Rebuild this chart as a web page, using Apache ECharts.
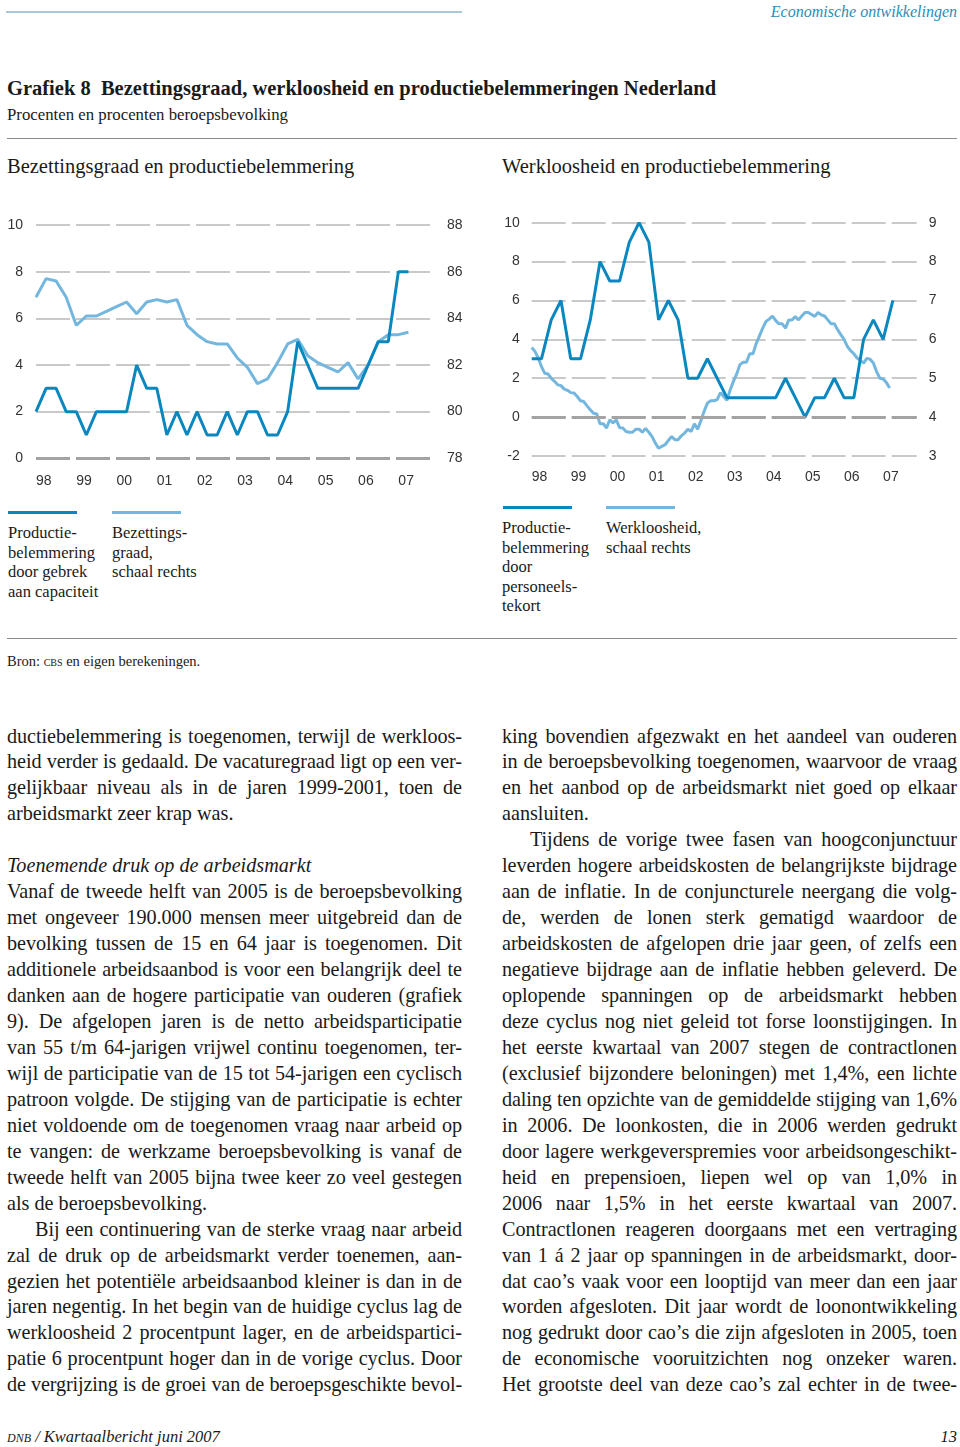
<!DOCTYPE html>
<html>
<head>
<meta charset="utf-8">
<script src="https://cdn.jsdelivr.net/npm/echarts@6/dist/echarts.min.js"></script>
<style>
  html, body { margin:0; padding:0; background:#fff; }
  body { width:960px; height:1447px; position:relative; overflow:hidden; font-family:'Liberation Serif', serif; color:#1a1a1a; }
  .abs { position:absolute; white-space:nowrap; }
  .rule { position:absolute; }
  .col { position:absolute; width:455px; font-size:20.2px; line-height:25.95px; top:723.5px; }
  .col div { text-align:justify; text-align-last:justify; white-space:nowrap; overflow:visible; }
  .col div.l { text-align:left; text-align-last:left; }
  .col div.ind { text-indent:28px; }
  .leg { position:absolute; font-size:16.5px; line-height:19.6px; }
  .sc { font-variant:small-caps; }
</style>
</head>
<body>
<div class="rule" style="left:6px;top:11px;width:456px;height:1.5px;background:#a9c9d8"></div>
<div class="abs" style="right:3px;top:2px;font-size:16px;line-height:20px;font-style:italic;color:#2b8db8">Economische ontwikkelingen</div>

<div class="abs" style="left:7px;top:76px;font-size:20.5px;line-height:24px;font-weight:bold">Grafiek 8&nbsp; Bezettingsgraad, werkloosheid en productiebelemmeringen Nederland</div>
<div class="abs" style="left:7px;top:105px;font-size:16.8px;line-height:20px">Procenten en procenten beroepsbevolking</div>
<div class="rule" style="left:7px;top:137.5px;width:950px;height:1.5px;background:#8a8a8a"></div>
<div class="abs" style="left:7px;top:154px;font-size:20.5px;line-height:24px">Bezettingsgraad en productiebelemmering</div>
<div class="abs" style="left:502px;top:154px;font-size:20.5px;line-height:24px">Werkloosheid en productiebelemmering</div>

<div id="chart" style="position:absolute;left:0;top:190px;width:960px;height:310px"></div>

<div class="rule" style="left:8px;top:510.5px;width:69px;height:3.5px;background:#0a87bf"></div>
<div class="rule" style="left:112px;top:510.5px;width:69px;height:3.5px;background:#74b7de"></div>
<div class="leg" style="left:8px;top:523px">Productie-<br>belemmering<br>door gebrek<br>aan capaciteit</div>
<div class="leg" style="left:112px;top:523px">Bezettings-<br>graad,<br>schaal rechts</div>

<div class="rule" style="left:503px;top:505.5px;width:69px;height:3.5px;background:#0a87bf"></div>
<div class="rule" style="left:606px;top:505.5px;width:69px;height:3.5px;background:#74b7de"></div>
<div class="leg" style="left:502px;top:518px">Productie-<br>belemmering<br>door<br>personeels-<br>tekort</div>
<div class="leg" style="left:606px;top:518px">Werkloosheid,<br>schaal rechts</div>

<div class="rule" style="left:7px;top:637.5px;width:950px;height:1.5px;background:#8a8a8a"></div>
<div class="abs" style="left:7px;top:652px;font-size:14.5px;line-height:18px">Bron: <span class="sc">cbs</span> en eigen berekeningen.</div>

<div class="col" style="left:7px">
<div>ductiebelemmering is toegenomen, terwijl de werkloos-</div>
<div>heid verder is gedaald. De vacaturegraad ligt op een ver-</div>
<div>gelijkbaar niveau als in de jaren 1999-2001, toen de</div>
<div class="l">arbeidsmarkt zeer krap was.</div>
<div class="l">&nbsp;</div>
<div class="l"><i>Toenemende druk op de arbeidsmarkt</i></div>
<div>Vanaf de tweede helft van 2005 is de beroepsbevolking</div>
<div>met ongeveer 190.000 mensen meer uitgebreid dan de</div>
<div>bevolking tussen de 15 en 64 jaar is toegenomen. Dit</div>
<div>additionele arbeidsaanbod is voor een belangrijk deel te</div>
<div>danken aan de hogere participatie van ouderen (grafiek</div>
<div>9). De afgelopen jaren is de netto arbeidsparticipatie</div>
<div>van 55 t/m 64-jarigen vrijwel continu toegenomen, ter-</div>
<div>wijl de participatie van de 15 tot 54-jarigen een cyclisch</div>
<div>patroon volgde. De stijging van de participatie is echter</div>
<div>niet voldoende om de toegenomen vraag naar arbeid op</div>
<div>te vangen: de werkzame beroepsbevolking is vanaf de</div>
<div>tweede helft van 2005 bijna twee keer zo veel gestegen</div>
<div class="l">als de beroepsbevolking.</div>
<div class="ind">Bij een continuering van de sterke vraag naar arbeid</div>
<div>zal de druk op de arbeidsmarkt verder toenemen, aan-</div>
<div>gezien het potentiële arbeidsaanbod kleiner is dan in de</div>
<div>jaren negentig. In het begin van de huidige cyclus lag de</div>
<div>werkloosheid 2 procentpunt lager, en de arbeidspartici-</div>
<div>patie 6 procentpunt hoger dan in de vorige cyclus. Door</div>
<div>de vergrijzing is de groei van de beroepsgeschikte bevol-</div>
</div>

<div class="col" style="left:502px">
<div>king bovendien afgezwakt en het aandeel van ouderen</div>
<div>in de beroepsbevolking toegenomen, waarvoor de vraag</div>
<div>en het aanbod op de arbeidsmarkt niet goed op elkaar</div>
<div class="l">aansluiten.</div>
<div class="ind">Tijdens de vorige twee fasen van hoogconjunctuur</div>
<div>leverden hogere arbeidskosten de belangrijkste bijdrage</div>
<div>aan de inflatie. In de conjuncturele neergang die volg-</div>
<div>de, werden de lonen sterk gematigd waardoor de</div>
<div>arbeidskosten de afgelopen drie jaar geen, of zelfs een</div>
<div>negatieve bijdrage aan de inflatie hebben geleverd. De</div>
<div>oplopende spanningen op de arbeidsmarkt hebben</div>
<div>deze cyclus nog niet geleid tot forse loonstijgingen. In</div>
<div>het eerste kwartaal van 2007 stegen de contractlonen</div>
<div>(exclusief bijzondere beloningen) met 1,4%, een lichte</div>
<div>daling ten opzichte van de gemiddelde stijging van 1,6%</div>
<div>in 2006. De loonkosten, die in 2006 werden gedrukt</div>
<div>door lagere werkgeverspremies voor arbeidsongeschikt-</div>
<div>heid en prepensioen, liepen wel op van 1,0% in</div>
<div>2006 naar 1,5% in het eerste kwartaal van 2007.</div>
<div>Contractlonen reageren doorgaans met een vertraging</div>
<div>van 1 á 2 jaar op spanningen in de arbeidsmarkt, door-</div>
<div>dat cao’s vaak voor een looptijd van meer dan een jaar</div>
<div>worden afgesloten. Dit jaar wordt de loonontwikkeling</div>
<div>nog gedrukt door cao’s die zijn afgesloten in 2005, toen</div>
<div>de economische vooruitzichten nog onzeker waren.</div>
<div>Het grootste deel van deze cao’s zal echter in de twee-</div>
</div>

<div class="abs" style="left:7px;top:1427px;font-size:16.5px;line-height:20px;font-style:italic"><span class="sc">dnb</span> / Kwartaalbericht juni 2007</div>
<div class="abs" style="right:3px;top:1427px;font-size:16.5px;line-height:20px;font-style:italic">13</div>

<script>
// Fit over-long justified lines into the column width
document.querySelectorAll('.col div').forEach(el => {
  const avail = el.clientWidth;
  const range = document.createRange();
  range.selectNodeContents(el);
  const natural = range.getBoundingClientRect().width + (el.classList.contains('ind') ? 28 : 0);
  if (natural > avail - 1) {
    const len = el.textContent.length;
    el.style.letterSpacing = (-(natural - avail + 3) / len).toFixed(3) + 'px';
  }
});
</script>

<script>
// ---- Data ----
const yearLabels = ['98','99','00','01','02','03','04','05','06','07'];
// Left panel, quarterly 1998Q1 - 2007Q2
const capacityShortage = [2,3,3,2,2,1,2,2,2,2, 4,3,3,1,2,1,2,1,1,2, 1,2,2,1,1,2,5,4,3,3, 3,3,3,4,5,5,8,8];
const capacityUtilisation = [84.9,85.7,85.6,84.9,83.7,84.1,84.1,84.3,84.5,84.7, 84.2,84.7,84.8,84.7,84.8,83.7,83.3,83.0,82.9,82.9, 82.3,81.9,81.2,81.4,82.1,82.9,83.1,82.4,82.1,81.9, 81.7,82.1,81.4,82.0,83.0,83.3,83.3,83.4];
// Right panel, quarterly 1998Q1 - 2007Q2
const labourShortage = [3,3,5,6,3,3,5,8,7,7, 9,10,9,5,6,5,2,2,3,2, 1,1,1,1,1,1,2,1,0,1, 1,2,1,1,4,5,4,6];
// Right panel, monthly Jan 1998 - Mar 2007
const unemployment = [
  5.79,5.69,5.52,5.30,5.13,5.11,5.00,4.92,4.83,4.81,4.72,4.69,
  4.63,4.62,4.53,4.42,4.40,4.29,4.19,4.10,4.08,3.83,3.83,3.72,
  3.93,3.85,3.93,3.73,3.72,3.63,3.61,3.61,3.69,3.69,3.61,3.71,
  3.61,3.50,3.33,3.20,3.25,3.29,3.40,3.50,3.42,3.42,3.52,3.59,
  3.69,3.63,3.83,3.69,3.91,4.15,4.36,4.42,4.42,4.45,4.63,4.53,
  4.43,4.70,4.92,5.11,5.35,5.41,5.41,5.63,5.63,5.89,6.09,6.29,
  6.46,6.52,6.60,6.48,6.40,6.40,6.29,6.50,6.50,6.59,6.50,6.60,
  6.69,6.69,6.64,6.59,6.69,6.63,6.60,6.50,6.40,6.40,6.25,6.12,
  6.00,5.82,5.71,5.63,5.52,5.46,5.39,5.51,5.49,5.39,5.17,5.00,
  4.98,4.89,4.75
];
const startYear = 1998;

const quarterly = arr => arr.map((v, i) => [startYear + i / 4, v]);
const monthly = arr => arr.map((v, i) => [startYear + i / 12, v]);

const DARK = '#0a87bf', LIGHT = '#74b7de';
const labelFont = { fontFamily: 'Liberation Sans, Arial, sans-serif', fontSize: 14, color: '#333' };
const split = { show: true, lineStyle: { type: [34, 6], color: '#b8b8b8', width: 1.5 } };

function xAxis(gridIndex, margin) {
  return {
    type: 'value', gridIndex, min: 1998, max: 2007.86, interval: 1,
    axisLine: { show: false }, axisTick: { show: false }, splitLine: { show: false },
    axisLabel: Object.assign({}, labelFont, {
      align: 'left', margin, showMaxLabel: false,
      formatter: v => { const i = Math.round(v - startYear); return Math.abs(v - Math.round(v)) < 1e-6 && yearLabels[i] ? yearLabels[i] : ''; }
    })
  };
}
function yAxis(gridIndex, position, min, max, interval, margin, showSplit) {
  return {
    type: 'value', gridIndex, position, min, max, interval,
    axisLine: { show: false }, axisTick: { show: false },
    splitLine: showSplit ? split : { show: false },
    axisLabel: Object.assign({}, labelFont, { margin })
  };
}
const zeroLine = {
  silent: true, symbol: 'none', label: { show: false },
  lineStyle: { type: [34, 6], color: '#a3a3a3', width: 3 },
  data: [{ yAxis: 0 }]
};

const chart = echarts.init(document.getElementById('chart'));
chart.setOption({
  animation: false,
  grid: [
    { left: 36, top: 35, width: 397, height: 233.3 },
    { left: 531.7, top: 32.7, width: 385, height: 233.3 }
  ],
  xAxis: [xAxis(0, 16), xAxis(1, 14.5)],
  yAxis: [
    yAxis(0, 'left', 0, 10, 2, 13, true),
    yAxis(0, 'right', 78, 88, 2, 14, false),
    yAxis(1, 'left', -2, 10, 2, 12, true),
    yAxis(1, 'right', 3, 9, 1, 12, false)
  ],
  series: [
    { name: 'Bezettingsgraad, schaal rechts', type: 'line', xAxisIndex: 0, yAxisIndex: 1, data: quarterly(capacityUtilisation),
      showSymbol: false, lineStyle: { color: LIGHT, width: 3 }, itemStyle: { color: LIGHT }, z: 2 },
    { name: 'Productiebelemmering door gebrek aan capaciteit', type: 'line', xAxisIndex: 0, yAxisIndex: 0, data: quarterly(capacityShortage),
      showSymbol: false, lineStyle: { color: DARK, width: 3 }, itemStyle: { color: DARK }, z: 3, markLine: zeroLine },
    { name: 'Werkloosheid, schaal rechts', type: 'line', xAxisIndex: 1, yAxisIndex: 3, data: monthly(unemployment),
      showSymbol: false, lineStyle: { color: LIGHT, width: 3 }, itemStyle: { color: LIGHT }, z: 2 },
    { name: 'Productiebelemmering door personeelstekort', type: 'line', xAxisIndex: 1, yAxisIndex: 2, data: quarterly(labourShortage),
      showSymbol: false, lineStyle: { color: DARK, width: 3 }, itemStyle: { color: DARK }, z: 3, markLine: zeroLine }
  ]
});
</script>
</body>
</html>
